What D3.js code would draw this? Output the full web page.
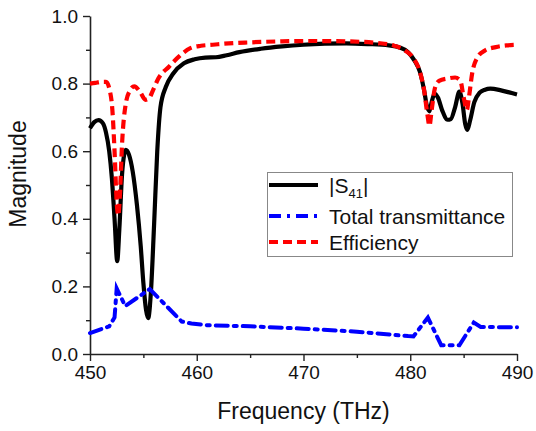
<!DOCTYPE html>
<html>
<head>
<meta charset="utf-8">
<script src="https://cdn.jsdelivr.net/npm/d3@7"></script>
<style>
  html, body { margin: 0; padding: 0; background: #fff; }
  svg { display: block; font-family: "Liberation Sans", Arial, sans-serif; }
</style>
</head>
<body>
<svg id="chart" width="536" height="431"></svg>
<script>
// Frequency axis (THz)
const xTicks = [450, 460, 470, 480, 490];
const yTicks = [0.0, 0.2, 0.4, 0.6, 0.8, 1.0];

// |S41| magnitude
const s41Freq = [450.0, 450.4, 450.8, 451.2, 451.5, 451.8, 452.05, 452.3, 452.55, 452.75, 453.0, 453.2, 453.35, 453.65, 454.0, 454.4, 454.75, 455.0, 455.25, 455.45, 455.7, 456.0, 456.3, 456.6, 457.1, 457.8, 458.8, 459.8, 460.8, 461.8, 462.8, 464.0, 466.0, 468.0, 470.0, 472.0, 474.0, 476.0, 478.0, 479.0, 479.8, 480.4, 480.9, 481.3, 481.55, 481.8, 482.0, 482.3, 482.6, 483.0, 483.5, 483.8, 484.2, 484.6, 484.9, 485.15, 485.35, 485.6, 486.0, 486.5, 487.0, 487.5, 488.5, 489.5, 490.0];
const s41Val = [0.668, 0.686, 0.692, 0.683, 0.655, 0.600, 0.520, 0.400, 0.275, 0.370, 0.530, 0.590, 0.604, 0.590, 0.540, 0.440, 0.320, 0.210, 0.130, 0.106, 0.180, 0.380, 0.600, 0.730, 0.790, 0.830, 0.860, 0.872, 0.877, 0.878, 0.884, 0.893, 0.903, 0.910, 0.915, 0.918, 0.919, 0.917, 0.913, 0.907, 0.893, 0.868, 0.835, 0.780, 0.735, 0.718, 0.745, 0.770, 0.758, 0.720, 0.693, 0.695, 0.730, 0.776, 0.740, 0.680, 0.663, 0.690, 0.745, 0.773, 0.782, 0.785, 0.780, 0.772, 0.768];

// Total transmittance
const transFreq = [450.0, 451.8, 452.3, 452.5, 453.3, 455.6, 458.6, 459.5, 461.0, 465.0, 470.0, 475.0, 479.8, 480.3, 481.65, 482.9, 484.6, 485.95, 486.6, 490.0];
const transVal = [0.062, 0.082, 0.108, 0.194, 0.142, 0.192, 0.096, 0.090, 0.085, 0.082, 0.075, 0.066, 0.053, 0.052, 0.108, 0.026, 0.026, 0.093, 0.080, 0.079];

// Efficiency
const effFreq = [450.0, 450.5, 451.0, 451.5, 451.85, 452.1, 452.3, 452.5, 452.65, 452.8, 453.0, 453.35, 453.75, 454.15, 454.7, 455.2, 455.5, 455.9, 456.4, 457.4, 458.4, 459.4, 460.4, 461.5, 463.0, 465.0, 468.0, 471.0, 474.0, 477.0, 478.5, 479.5, 480.3, 480.9, 481.3, 481.6, 481.8, 482.0, 482.3, 482.7, 483.5, 484.2, 484.7, 485.0, 485.3, 485.5, 485.8, 486.3, 487.0, 488.0, 489.0, 490.0];
const effVal = [0.800, 0.802, 0.805, 0.805, 0.780, 0.720, 0.600, 0.450, 0.410, 0.470, 0.620, 0.740, 0.780, 0.792, 0.775, 0.752, 0.755, 0.780, 0.815, 0.850, 0.882, 0.905, 0.912, 0.915, 0.919, 0.922, 0.925, 0.926, 0.925, 0.920, 0.912, 0.898, 0.875, 0.835, 0.780, 0.710, 0.675, 0.720, 0.785, 0.808, 0.815, 0.818, 0.808, 0.760, 0.722, 0.760, 0.830, 0.878, 0.898, 0.908, 0.913, 0.915];

const svg = d3.select("#chart");
const plotLeft = 90, plotRight = 517, plotTop = 16, plotBottom = 354;

const x = d3.scaleLinear().domain([450, 490]).range([plotLeft, plotRight]);
const y = d3.scaleLinear().domain([0, 1]).range([plotBottom, plotTop]);

// Axes with major + minor outward ticks
const xMinor = d3.range(455, 490, 10);
const yMinor = d3.range(0.1, 1.0, 0.2);

const gx = svg.append("g").attr("transform", `translate(0,${plotBottom})`);
gx.call(d3.axisBottom(x).tickValues(xMinor).tickSize(4).tickFormat(""));
gx.call(g => g.select(".domain").remove());
svg.append("g").attr("transform", `translate(0,${plotBottom})`)
  .call(d3.axisBottom(x).tickValues(xTicks).tickSize(7).tickPadding(5).tickSizeOuter(0).tickFormat(d3.format("d")));

const gy = svg.append("g").attr("transform", `translate(${plotLeft},0)`);
gy.call(d3.axisLeft(y).tickValues(yMinor).tickSize(4).tickFormat(""));
gy.call(g => g.select(".domain").remove());
svg.append("g").attr("transform", `translate(${plotLeft},0)`)
  .call(d3.axisLeft(y).tickValues(yTicks).tickSize(7).tickPadding(5).tickSizeOuter(0).tickFormat(d3.format(".1f")));

svg.selectAll(".domain").attr("stroke", "#222").attr("stroke-width", 1.6);
svg.selectAll(".tick line").attr("stroke", "#222").attr("stroke-width", 1.4);
svg.selectAll(".tick text").attr("font-size", 19).attr("fill", "#111")
  .attr("font-family", "'Liberation Sans', Arial, sans-serif");

// Axis titles
svg.append("text").attr("x", (plotLeft + plotRight) / 2).attr("y", 419)
  .attr("text-anchor", "middle").attr("font-size", 23).attr("fill", "#111")
  .text("Frequency (THz)");
svg.append("text").attr("transform", "translate(26,174) rotate(-90)")
  .attr("text-anchor", "middle").attr("font-size", 23).attr("fill", "#111")
  .text("Magnitude");

// Series
const smooth = d3.line().x(d => x(d[0])).y(d => y(d[1])).curve(d3.curveMonotoneX);
const straight = d3.line().x(d => x(d[0])).y(d => y(d[1]));

const s41 = d3.zip(s41Freq, s41Val);
const trans = d3.zip(transFreq, transVal);
const eff = d3.zip(effFreq, effVal);

svg.append("path").datum(s41).attr("d", smooth)
  .attr("fill", "none").attr("stroke", "#000").attr("stroke-width", 4.2)
  .attr("stroke-linejoin", "round");
svg.append("path").datum(trans).attr("d", straight)
  .attr("fill", "none").attr("stroke", "#0000ff").attr("stroke-width", 4)
  .attr("stroke-dasharray", "12,6,3,6").attr("stroke-linecap", "round");
svg.append("path").datum(eff).attr("d", smooth)
  .attr("fill", "none").attr("stroke", "#ff0000").attr("stroke-width", 4.2)
  .attr("stroke-dasharray", "9,5");

// Legend
const legend = svg.append("g");
legend.append("rect").attr("x", 267.5).attr("y", 172.5).attr("width", 245).attr("height", 84)
  .attr("fill", "#fff").attr("stroke", "#888").attr("stroke-width", 1);
const items = [
  { label: "S41", color: "#000", dash: null, cy: 185 },
  { label: "Total transmittance", color: "#0000ff", dash: "12,6,3,6", cy: 216 },
  { label: "Efficiency", color: "#ff0000", dash: "9,5", cy: 242 }
];
items.forEach((it, i) => {
  legend.append("line").attr("x1", 269).attr("x2", 318).attr("y1", it.cy).attr("y2", it.cy)
    .attr("stroke", it.color).attr("stroke-width", 4.2)
    .attr("stroke-dasharray", it.dash);
  const t = legend.append("text").attr("x", 329).attr("y", it.cy + 7.5)
    .attr("font-size", 21).attr("fill", "#111");
  if (i === 0) {
    t.append("tspan").text("|S");
    t.append("tspan").attr("font-size", 13).attr("dy", 5).text("41");
    t.append("tspan").attr("dy", -5).text("|");
  } else {
    t.text(it.label);
  }
});
</script>
</body>
</html>
